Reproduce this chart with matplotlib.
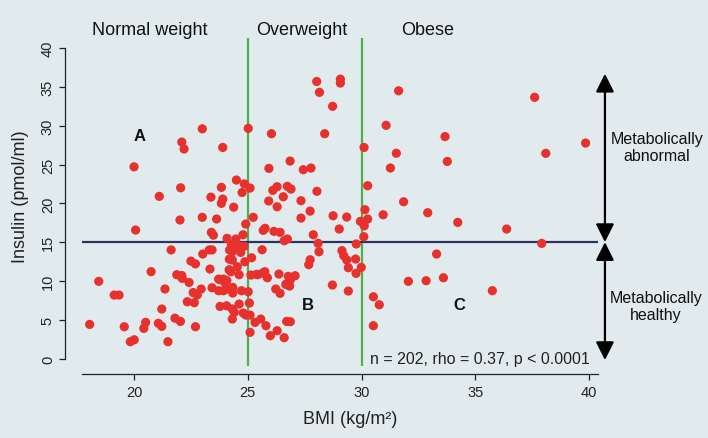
import matplotlib.pyplot as plt

plt.rcParams['font.family'] = ['Liberation Sans', 'DejaVu Sans']

# BMI (kg/m2) and fasting insulin (pmol/ml)
bmi = [
    20.0, 21.11, 22.05, 22.02, 20.07, 22.2, 22.1, 23.0, 23.9, 23.84,
    23.38, 23.9, 23.84, 24.5, 24.85, 25.1, 24.75, 24.38, 25.02, 23.0,
    23.63, 25.24, 21.63, 22.5, 22.7, 20.75, 18.45, 21.88, 22.1, 22.12,
    22.42, 21.36, 22.6, 22.78, 19.13, 19.34, 22.34, 22.65, 21.22, 21.8,
    22.04, 18.05, 19.57, 20.51, 20.43, 21.07, 21.22, 22.7, 19.84, 20.01,
    21.49, 23.02, 23.4, 23.49, 23.31, 23.43, 23.34, 22.95, 23.43, 23.78,
    23.78, 24.07, 24.91, 24.09, 24.48, 24.79, 24.28, 24.37, 24.65, 24.84,
    24.2, 24.32, 24.69, 25.63, 25.17, 24.19, 24.32, 24.87, 24.54, 24.18,
    24.26, 24.62, 25.14, 25.39, 25.66, 23.72, 23.93, 24.0, 24.08, 23.72,
    23.93, 24.07, 24.34, 24.34, 24.72, 25.02, 24.62, 25.07, 24.32, 24.41,
    24.8, 24.92, 25.1, 24.32, 25.32, 25.57, 25.1,
    28.03, 29.07, 29.07, 28.15, 28.73, 26.04, 28.38, 30.11, 25.93, 26.86,
    27.44, 27.78, 26.1, 26.29, 26.74, 26.9, 26.56, 28.04, 25.92, 26.29,
    27.34, 30.27, 27.74, 27.34, 28.75, 29.35, 29.02, 30.15, 29.95, 30.1,
    30.27, 30.12, 30.1, 25.76, 25.68, 26.15, 26.42, 26.6, 26.74, 27.88,
    28.09, 28.13, 27.74, 27.68, 29.14, 29.22, 29.35, 29.77, 29.74, 29.42,
    29.99, 29.76, 25.44, 25.75, 25.86, 26.37, 26.78, 27.08, 26.87, 26.67,
    26.84, 26.23, 26.42, 28.72, 29.42, 25.8, 26.71, 26.87, 25.99, 26.29,
    26.6,
    30.52, 30.78, 30.52, 31.63, 31.08, 33.67, 31.53, 33.77, 31.27, 31.85,
    30.95, 32.91, 34.23, 33.3, 32.06, 32.84, 33.6, 37.61, 39.85, 38.1,
    36.38, 37.92, 35.75,
]
insulin = [
    24.7, 20.9, 22.0, 17.85, 16.56, 27.0, 27.9, 29.6, 27.2, 22.06,
    20.8, 20.55, 20.0, 23.0, 22.5, 21.97, 21.4, 19.5, 29.66, 18.2,
    17.98, 18.2, 14.0, 12.56, 12.2, 11.2, 9.95, 10.8, 10.7, 10.33,
    9.8, 8.96, 8.5, 8.2, 8.18, 8.18, 7.32, 7.19, 6.38, 5.2,
    4.79, 4.4, 4.1, 4.66, 3.89, 4.54, 4.15, 4.1, 2.17, 2.42,
    2.17, 13.47, 16.26, 15.9, 14.0, 14.0, 11.53, 8.96, 9.12, 10.16,
    6.72, 6.8, 17.33, 15.49, 15.4, 15.95, 14.67, 14.28, 14.46, 14.46,
    13.98, 13.76, 13.68, 14.02, 12.99, 12.8, 12.7, 12.47, 11.83, 11.44,
    11.18, 10.8, 10.76, 10.85, 11.02, 10.24, 10.24, 9.75, 10.05, 8.74,
    8.74, 8.96, 9.17, 8.44, 8.74, 8.61, 7.02, 7.15, 6.38, 5.95,
    5.86, 5.6, 5.6, 5.09, 4.66, 5.09, 3.38,
    35.7, 36.0, 35.5, 34.3, 32.5, 28.97, 28.97, 27.2, 24.5, 25.45,
    24.33, 24.55, 21.67, 22.14, 22.19, 21.84, 20.85, 21.55, 20.3, 19.56,
    20.34, 22.27, 19.0, 18.1, 18.4, 18.23, 16.69, 19.18, 17.68, 17.55,
    17.98, 17.1, 15.7, 16.78, 16.52, 16.39, 16.26, 15.18, 15.4, 15.95,
    14.85, 13.76, 12.73, 12.1, 13.9, 13.25, 12.7, 14.76, 12.82, 11.7,
    11.75, 10.98, 10.8, 11.19, 10.41, 10.89, 10.59, 10.67, 10.15, 9.56,
    9.34, 8.96, 8.4, 9.47, 8.7, 4.23, 4.79, 4.75, 2.94, 3.59,
    2.69,
    7.96, 6.93, 4.23, 34.5, 30.05, 28.6, 26.45, 25.4, 24.55, 20.2,
    18.53, 18.79, 17.55, 13.47, 9.95, 10.03, 10.41, 33.66, 27.77, 26.44,
    16.69, 14.84, 8.74,
]

groups = ["Normal weight", "Overweight", "Obese"]
group_x = [20.7, 27.37, 32.9]
cutoffs = [25, 30]
threshold = 15
regions = ["A", "B", "C"]
region_xy = [(20.26, 28.8), (27.66, 7.0), (34.3, 7.0)]
stats = "n = 202, rho = 0.37, p < 0.0001"

bg = "#e1ebee"
red = "#e8302d"
green = "#4caf50"
navy = "#2e3264"
dark = "#222222"

fig = plt.figure(figsize=(7.08, 4.39), dpi=100)
fig.patch.set_facecolor(bg)
ax = fig.add_axes([0.1154, 0.1633, 0.7294, 0.7478])
ax.set_facecolor(bg)

ax.scatter(bmi, insulin, s=44, color=red, edgecolors="none", zorder=3)

for c in cutoffs:
    ax.axvline(c, color=green, lw=1.6, zorder=2)
ax.axhline(threshold, color=navy, lw=1.6, zorder=2)

ax.set_xlim(17.7, 40.4)
ax.set_ylim(-1.0, 41.3)

for s in ["top", "right"]:
    ax.spines[s].set_visible(False)
ax.spines["left"].set_position(("outward", 12))
ax.spines["left"].set_bounds(0, 40)
ax.spines["bottom"].set_position(("outward", 5.5))
for s in ["left", "bottom"]:
    ax.spines[s].set_color(dark)
    ax.spines[s].set_linewidth(0.9)

ax.set_xticks([20, 25, 30, 35, 40])
ax.set_yticks([0, 5, 10, 15, 20, 25, 30, 35, 40])
ax.tick_params(colors=dark, labelsize=10.5, length=4.3, width=0.9)
ax.tick_params(axis="y", labelrotation=90, pad=3)
for lab in ax.get_yticklabels():
    lab.set_va("center")

fig.text(350 / 708, 1 - 420 / 439, "BMI (kg/m²)", ha="center", va="center",
         fontsize=13, color=dark)
fig.text(21 / 708, 1 - 197 / 439, "Insulin (pmol/ml)", ha="center", va="center",
         rotation=90, fontsize=13, color=dark)

for g, gx in zip(groups, group_x):
    ax.text(gx, 41.8, g, ha="center", va="baseline", fontsize=13, color="#111111",
            clip_on=False)

for r, (rx, ry) in zip(regions, region_xy):
    ax.text(rx, ry, r, ha="center", va="center", fontsize=12, fontweight="bold",
            color="#111111")

ax.text(30.37, 0, stats, ha="left", va="center", fontsize=11.5, color=dark)

# arrows on the right
arrow = dict(arrowstyle="<|-|>,head_length=1.1,head_width=0.55", color="black",
             lw=1.6, mutation_scale=10, shrinkA=0, shrinkB=0)
ax.annotate("", xy=(40.7, 36.7), xytext=(40.7, 15), arrowprops=arrow,
            annotation_clip=False)
ax.annotate("", xy=(40.7, 15), xytext=(40.7, -0.2), arrowprops=arrow,
            annotation_clip=False)
ax.text(42.98, 27.25, "Metabolically\nabnormal", ha="center", va="center",
        fontsize=11.5, color="#111111", clip_on=False)
ax.text(42.95, 6.8, "Metabolically\nhealthy", ha="center", va="center",
        fontsize=11.5, color="#111111", clip_on=False)

fig.savefig("out.png", dpi=100, facecolor=bg)
